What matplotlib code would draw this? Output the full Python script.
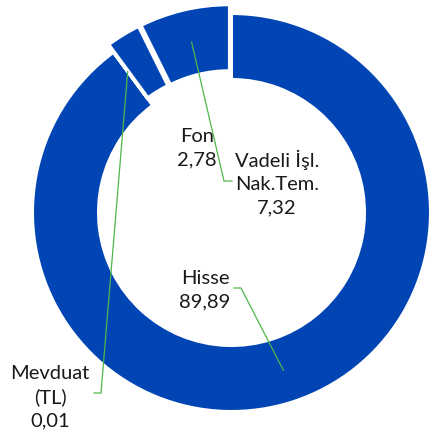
import numpy as np
import matplotlib.pyplot as plt

# veri (saat yönünde, tepeden başlayarak)
labels = ['Hisse', 'Mevduat\n(TL)', 'Fon', 'Vadeli İşl.\nNak.Tem.']
values = [89.89, 0.01, 2.78, 7.32]
value_text = ['89,89', '0,01', '2,78', '7,32']

W, H = 431, 437
CX, CY = 231.5, H - 212.5
R_OUT, RING = 199, 66
EXPLODE = [0, 9, 9, 9]
BLUE = '#0145B5'
GREEN = '#4DB848'

# etiket yerleşimi (piksel, y yukarı)
label_pos = {
    'Hisse': (205, H - 290),
    'Mevduat\n(TL)': (50, H - 397),
    'Fon': (197, H - 148),
    'Vadeli İşl.\nNak.Tem.': (277, H - 183),
}
# leader çizgileri: (yatay uç, dirsek)
leader = {
    'Hisse': ((234, H - 288), (241, H - 288)),
    'Mevduat\n(TL)': ((94, H - 393), (101, H - 393)),
    'Vadeli İşl.\nNak.Tem.': ((232, H - 181), (224, H - 181)),
}

plt.rcParams['font.family'] = ['Lato', 'DejaVu Sans']

fig = plt.figure(figsize=(W / 100, H / 100), dpi=100)
ax = fig.add_axes([0, 0, 1, 1])

wedges, _ = ax.pie(values, startangle=90, counterclock=False, radius=R_OUT,
                   center=(CX, CY), explode=EXPLODE, colors=[BLUE] * 4,
                   wedgeprops=dict(width=RING, edgecolor='white', linewidth=2.2))

for lab, txt, w, ex in zip(labels, value_text, wedges, EXPLODE):
    x, y = label_pos[lab]
    ax.text(x, y, lab + '\n' + txt, ha='center', va='center', fontsize=14.5,
            linespacing=1.42, color='#1a1a1a')
    if lab in leader:
        ang = np.deg2rad((w.theta1 + w.theta2) / 2)
        r = R_OUT - RING / 2 + ex
        tip = (CX + r * np.cos(ang), CY + r * np.sin(ang))
        p0, p1 = leader[lab]
        ax.plot([p0[0], p1[0], tip[0]], [p0[1], p1[1], tip[1]], color=GREEN, lw=0.9)

ax.set_xlim(0, W)
ax.set_ylim(0, H)
ax.set_aspect('equal')
ax.axis('off')

fig.savefig('out.png', dpi=100)
